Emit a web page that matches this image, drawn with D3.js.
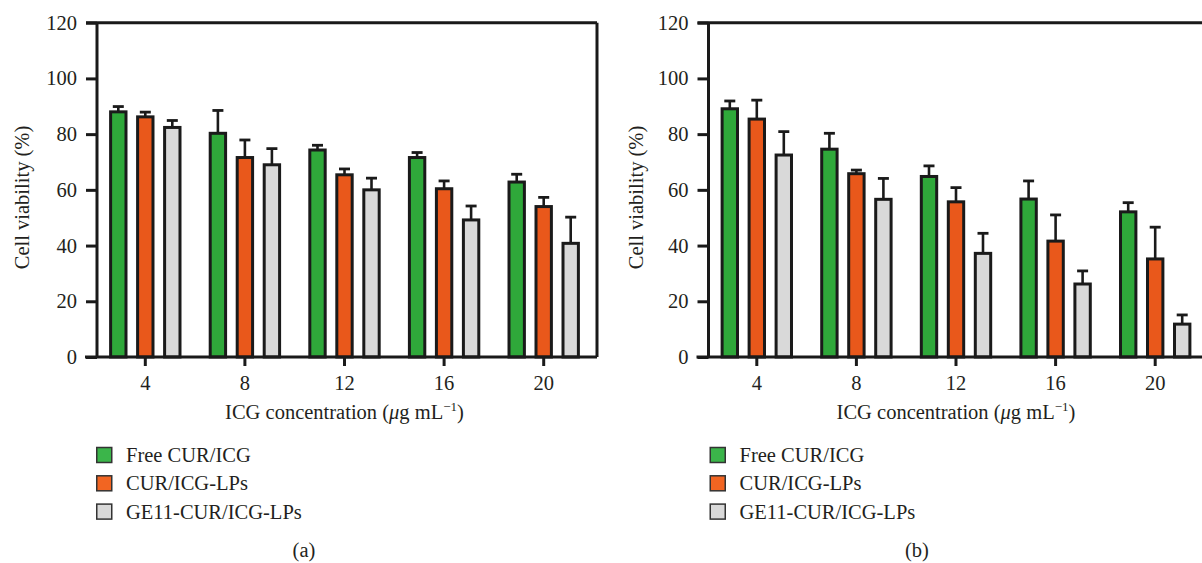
<!DOCTYPE html>
<html>
<head>
<meta charset="utf-8">
<script src="https://cdn.jsdelivr.net/npm/d3@7"></script>
<style>
  html, body { margin: 0; padding: 0; background: #fff; }
  svg { display: block; }
  svg text { font-family: "Liberation Serif", "Times New Roman", serif !important; fill: #231f20; }
</style>
</head>
<body>
<svg id="chart" width="1202" height="563"></svg>
<script>
// ---- data ----
const categories = ["4", "8", "12", "16", "20"];
const seriesNames = ["Free CUR/ICG", "CUR/ICG-LPs", "GE11-CUR/ICG-LPs"];
const seriesColors = ["#2fa83a", "#e9581b", "#d9d9d9"];
const legendColors = ["#3bb54a", "#f26522", "#d9d9d9"];
const yTicks = [0, 20, 40, 60, 80, 100, 120];

// panel (a)
const aFree   = [88.0, 80.3, 74.3, 71.6, 62.8];
const aFreeE  = [1.9, 8.2, 1.7, 1.8, 2.8];
const aLP     = [86.2, 71.6, 65.4, 60.4, 54.0];
const aLPE    = [1.7, 6.3, 2.1, 2.8, 3.3];
const aGE     = [82.4, 69.0, 60.0, 49.2, 40.8];
const aGEE    = [2.5, 5.8, 4.2, 5.0, 9.4];

// panel (b)
const bFree   = [89.1, 74.6, 64.8, 56.7, 52.1];
const bFreeE  = [2.8, 5.7, 3.8, 6.5, 3.3];
const bLP     = [85.4, 65.8, 55.7, 41.6, 35.2];
const bLPE    = [6.8, 1.3, 5.1, 9.4, 11.4];
const bGE     = [72.5, 56.6, 37.2, 26.2, 11.8];
const bGEE    = [8.4, 7.5, 7.2, 4.7, 3.3];

const xTitle = "ICG concentration (";
const yTitle = "Cell viability (%)";

const svg = d3.select("#chart");
const ink = "#1a1a1a";
const FS = 20.5;

function panel(opts) {
  const { left, right, top, bottom, values, errors, caption, legendX } = opts;
  const g = svg.append("g");
  const x0 = d3.scaleBand().domain(categories).range([left - 1.5, left - 1.5 + 5 * 99.6]);
  const x1 = d3.scaleBand().domain(seriesNames).range([-40.5, 40.5])
    .paddingInner(0.43).paddingOuter(0.215);
  const y = d3.scaleLinear().domain([0, 120]).range([bottom, top]);

  // frame (top and right)
  g.append("line").attr("x1", left - 11).attr("x2", right).attr("y1", top).attr("y2", top)
    .attr("stroke", ink).attr("stroke-width", 3);
  g.append("line").attr("x1", right).attr("x2", right).attr("y1", top).attr("y2", bottom)
    .attr("stroke", ink).attr("stroke-width", 3);

  // bars
  seriesNames.forEach((s, si) => {
    const vals = values[si], errs = errors[si];
    const grp = g.append("g");
    categories.forEach((c, ci) => {
      const cx = x0(c) + x0.bandwidth() / 2 + x1(s);
      const w = x1.bandwidth();
      const v = vals[ci], e = errs[ci];
      const mid = cx + w / 2;
      grp.append("line").attr("x1", mid).attr("x2", mid)
        .attr("y1", y(v)).attr("y2", y(v + e))
        .attr("stroke", ink).attr("stroke-width", 2.6);
      grp.append("line").attr("x1", mid - 5.5).attr("x2", mid + 5.5)
        .attr("y1", y(v + e)).attr("y2", y(v + e))
        .attr("stroke", ink).attr("stroke-width", 2.8);
      grp.append("rect")
        .attr("x", cx).attr("y", y(v))
        .attr("width", w).attr("height", y(0) - y(v))
        .attr("fill", seriesColors[si])
        .attr("stroke", ink).attr("stroke-width", 3);
    });
  });

  // y axis
  const yAxis = g.append("g").attr("transform", `translate(${left},0)`)
    .call(d3.axisLeft(y).tickValues(yTicks).tickSize(11).tickPadding(9));
  yAxis.attr("font-family", null).attr("font-size", null);
  yAxis.select(".domain").attr("stroke", ink).attr("stroke-width", 3)
    .attr("d", `M0,${top}V${bottom}`);
  yAxis.selectAll(".tick line").attr("stroke", ink).attr("stroke-width", 3);
  yAxis.selectAll(".tick text").attr("font-size", FS).attr("fill", "#231f20");

  // x axis
  const xAxis = g.append("g").attr("transform", `translate(0,${bottom})`)
    .call(d3.axisBottom(x0).tickSize(9).tickPadding(9.5));
  xAxis.attr("font-family", null).attr("font-size", null);
  xAxis.select(".domain").attr("stroke", ink).attr("stroke-width", 3)
    .attr("d", `M${left - 12},0H${right}`);
  xAxis.selectAll(".tick line").attr("stroke", ink).attr("stroke-width", 3);
  xAxis.selectAll(".tick text").attr("font-size", FS).attr("fill", "#231f20");

  // x title
  const xc = x0(categories[2]) + x0.bandwidth() / 2;
  const xt = g.append("text").attr("x", xc).attr("y", 419)
    .attr("text-anchor", "middle").attr("font-size", FS);
  xt.append("tspan").text(xTitle);
  xt.append("tspan").attr("font-style", "italic").text("\u03bc");
  xt.append("tspan").text("g mL");
  xt.append("tspan").attr("dy", -8).attr("font-size", 13).text("\u22121");
  xt.append("tspan").attr("dy", 8).text(")");

  // y title
  g.append("text")
    .attr("transform", `translate(${opts.yTitleX},${197.5}) rotate(-90)`)
    .attr("text-anchor", "middle").attr("dy", "0.35em")
    .attr("font-size", FS).text(yTitle);

  // legend
  const lg = g.append("g");
  seriesNames.forEach((s, i) => {
    const ly = 455 + i * 28.3;
    lg.append("rect").attr("x", legendX + 0.75).attr("y", ly - 7.5)
      .attr("width", 15).attr("height", 15)
      .attr("fill", legendColors[i]).attr("stroke", "#333").attr("stroke-width", 1.5);
    lg.append("text").attr("x", legendX + 30).attr("y", ly).attr("dy", "0.35em")
      .attr("font-size", FS).text(s);
  });

  // caption
  g.append("text").attr("x", opts.captionX).attr("y", 550).attr("dy", "0.35em")
    .attr("text-anchor", "middle").attr("font-size", FS).text(caption);
}

panel({
  left: 97, right: 597, top: 22.7, bottom: 357,
  values: [aFree, aLP, aGE], errors: [aFreeE, aLPE, aGEE],
  caption: "(a)", legendX: 96, yTitleX: 22, captionX: 304
});
panel({
  left: 708.5, right: 1210, top: 22.7, bottom: 357,
  values: [bFree, bLP, bGE], errors: [bFreeE, bLPE, bGEE],
  caption: "(b)", legendX: 709.5, yTitleX: 636, captionX: 917
});
</script>
</body>
</html>
